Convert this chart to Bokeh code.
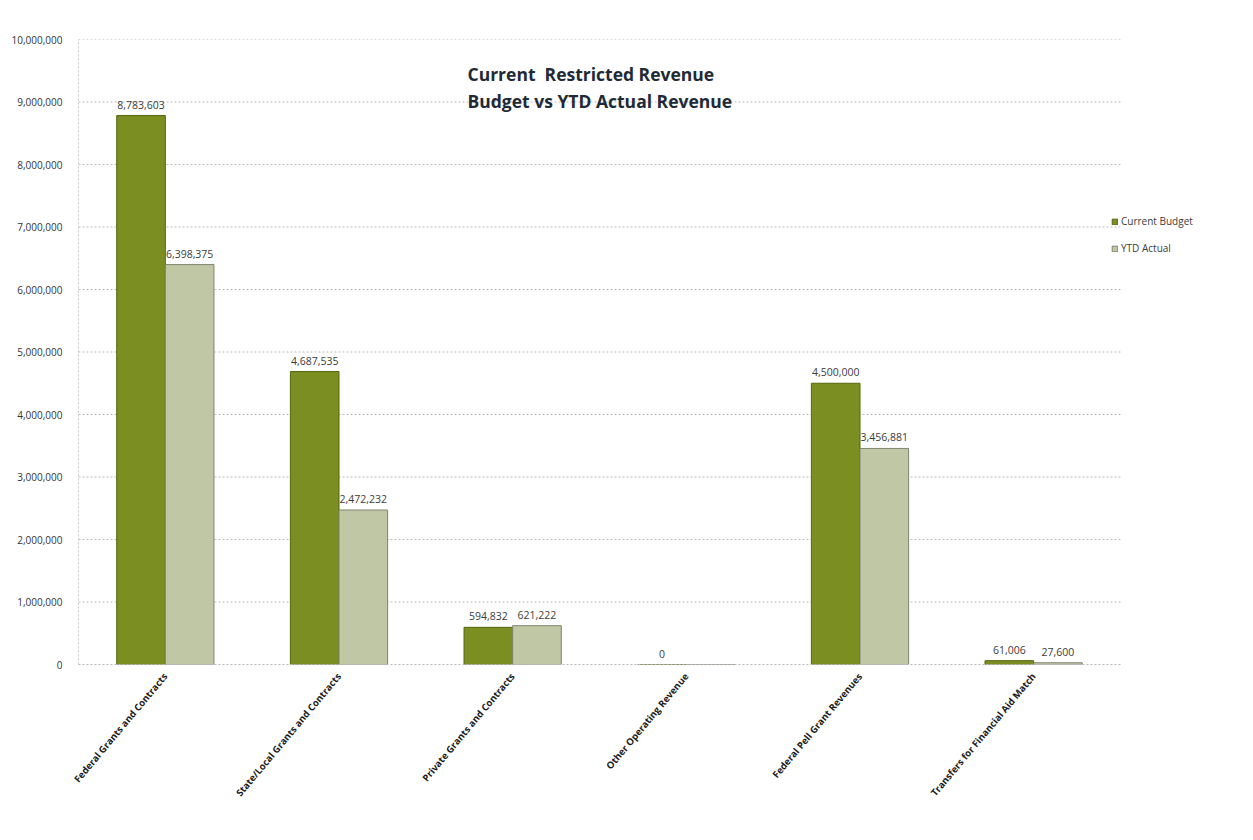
import math
from bokeh.plotting import figure
from bokeh.models import (ColumnDataSource, Range1d, NumeralTickFormatter,
                          LabelSet, Label, Legend, LegendItem, FixedTicker)
from bokeh.core.properties import value
from bokeh.embed import file_html
from bokeh.resources import INLINE

categories = [
    "Federal Grants and Contracts",
    "State/Local Grants and Contracts",
    "Private Grants and Contracts",
    "Other Operating Revenue",
    "Federal Pell Grant Revenues",
    "Transfers for Financial Aid Match",
]
current_budget = [8783603, 4687535, 594832, 0, 4500000, 61006]
ytd_actual = [6398375, 2472232, 621222, 0, 3456881, 27600]
y_ticks = [0, 1000000, 2000000, 3000000, 4000000, 5000000,
           6000000, 7000000, 8000000, 9000000, 10000000]

FONT = "Open Sans"
BUDGET_COLOR = "#7b8e22"
ACTUAL_COLOR = "#c0c7a5"
BAR_W = 0.28
OFF = 0.14

n = len(categories)
centers = [i + 0.5 for i in range(n)]

src = ColumnDataSource(dict(
    xb=[c - OFF for c in centers],
    xa=[c + OFF for c in centers],
    budget=current_budget,
    actual=ytd_actual,
    budget_lbl=[f"{v:,}" for v in current_budget],
    actual_lbl=[f"{v:,}" if v else "" for v in ytd_actual],
))

# plot frame spans the categories plus extra room on the right for the legend
FRAME_LEFT, FRAME_RIGHT_PAD = 78, 13
frame_w = 1253 - FRAME_LEFT - FRAME_RIGHT_PAD
cat_px = (1120 - FRAME_LEFT) / n
x_end = frame_w / cat_px

p = figure(
    width=1253, height=840,
    x_range=Range1d(0, x_end),
    y_range=Range1d(0, 10000000),
    output_backend="svg", toolbar_location=None,
    min_border_left=FRAME_LEFT, min_border_right=FRAME_RIGHT_PAD,
    min_border_top=39, min_border_bottom=176,
)
p.outline_line_color = None
p.background_fill_color = "white"
p.border_fill_color = "white"

# horizontal gridlines limited to the category area
p.xgrid.grid_line_color = None
p.ygrid.grid_line_color = None
p.segment(x0=[0] * len(y_ticks[1:]), x1=[n] * len(y_ticks[1:]),
          y0=y_ticks[1:], y1=y_ticks[1:],
          line_color="#bdbdbd", line_dash="2 2", line_width=1)

rb = p.vbar(x="xb", top="budget", width=BAR_W, source=src,
            fill_color=BUDGET_COLOR, line_color="#56660f", line_width=1)
ra = p.vbar(x="xa", top="actual", width=BAR_W, source=src,
            fill_color=ACTUAL_COLOR, line_color="#7f8470", line_width=1)

# value labels above bars
for xcol, ycol, tcol in (("xb", "budget", "budget_lbl"), ("xa", "actual", "actual_lbl")):
    p.add_layout(LabelSet(
        x=xcol, y=ycol, text=tcol, source=src,
        y_offset=7, text_align="center", text_baseline="bottom",
        text_font=value(FONT), text_font_size="10.5px", text_color="#3c3c3c",
    ))

# y axis
p.yaxis.ticker = FixedTicker(ticks=y_ticks)
p.yaxis.formatter = NumeralTickFormatter(format="0,0")
p.yaxis.major_label_text_font = FONT
p.yaxis.major_label_text_font_size = "10px"
p.yaxis.major_label_text_color = "#333333"
p.yaxis.axis_line_color = "#c8c8c8"
p.yaxis.axis_line_dash = "2 2"
p.yaxis.major_tick_line_color = None
p.yaxis.minor_tick_line_color = None
p.yaxis.major_label_standoff = 10

# x axis with category names
p.xaxis.ticker = FixedTicker(ticks=centers)
p.xaxis.major_label_overrides = {c: name for c, name in zip(centers, categories)}
p.xaxis.bounds = (0, n)
p.xaxis.major_label_orientation = math.radians(50)
p.xaxis.major_label_text_font = FONT
p.xaxis.major_label_text_font_size = "9.5px"
p.xaxis.major_label_text_font_style = "bold"
p.xaxis.major_label_text_color = "#1a1a1a"
p.xaxis.axis_line_color = "#b8b8b8"
p.xaxis.axis_line_dash = "2 2"
p.xaxis.major_tick_line_color = None
p.xaxis.minor_tick_line_color = None
p.xaxis.major_label_standoff = 4

# title lines
for txt, y in (("Current\u00a0\u00a0Restricted Revenue", 591),
               ("Budget vs YTD Actual Revenue", 564)):
    p.add_layout(Label(x=389, y=y, x_units="screen", y_units="screen",
                       text=txt, text_font=FONT,
                       text_font_size="17.5px", text_font_style="bold",
                       text_color="#1f2a36", text_baseline="alphabetic"))

legend = Legend(
    items=[LegendItem(label="Current Budget", renderers=[rb]),
           LegendItem(label="YTD Actual", renderers=[ra])],
    location=(1033, 409),
    label_text_font=FONT, label_text_font_size="10px", label_text_color="#3c3c3c",
    glyph_width=7, glyph_height=7, label_standoff=3,
    label_height=12, spacing=13, padding=0,
    border_line_color=None, background_fill_alpha=0,
)
p.add_layout(legend, "center")

open("out.html", "w").write(file_html(p, INLINE))
